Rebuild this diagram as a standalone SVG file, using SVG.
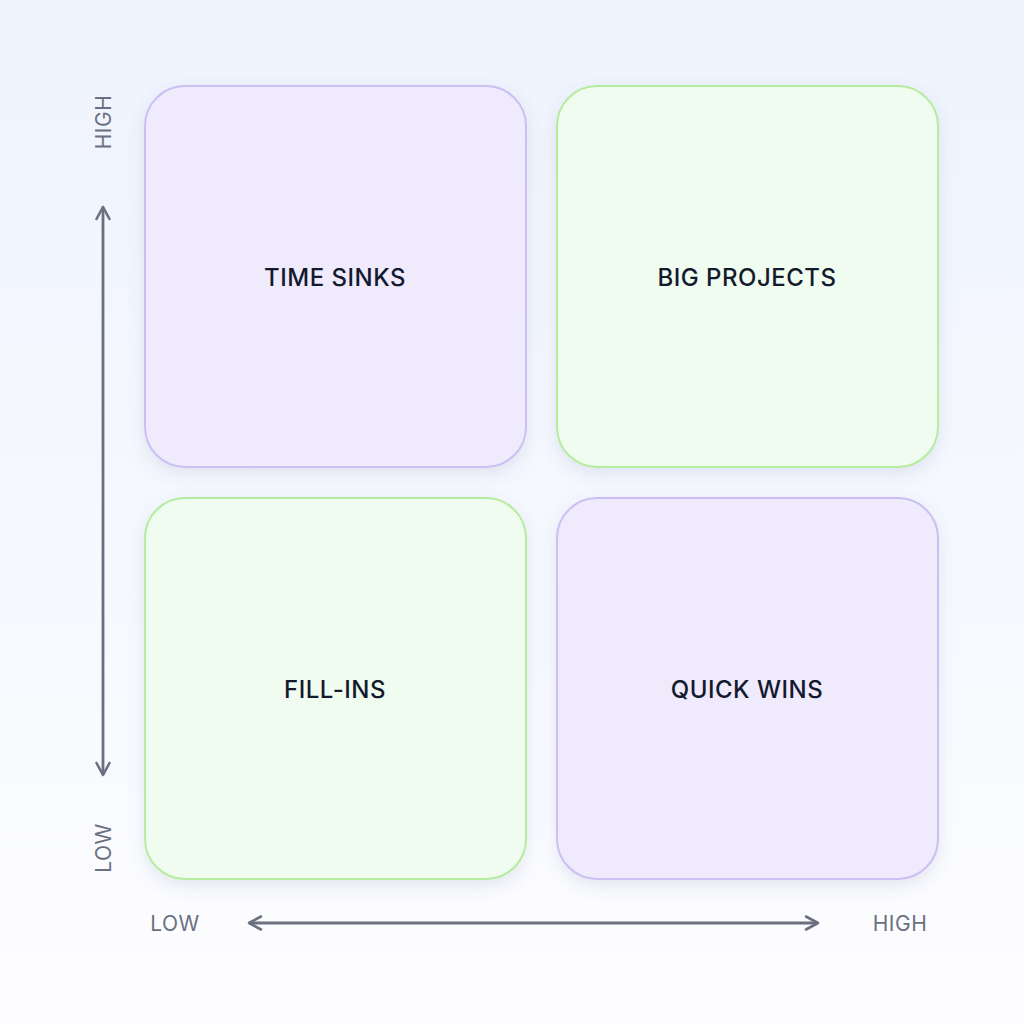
<svg xmlns="http://www.w3.org/2000/svg" width="1024" height="1024" viewBox="0 0 1024 1024">
<defs>
<linearGradient id="bg" x1="0" y1="0" x2="0" y2="1"><stop offset="0" stop-color="#eef3fd"/><stop offset="1" stop-color="#fdfdff"/></linearGradient>
<filter id="sh" x="-20%" y="-20%" width="140%" height="140%"><feDropShadow dx="0" dy="6" stdDeviation="8" flood-color="#6070a0" flood-opacity="0.15"/></filter>
<marker id="ah" viewBox="0 0 16 16" refX="14" refY="8" markerWidth="16" markerHeight="16" markerUnits="userSpaceOnUse" orient="auto-start-reverse"><path d="M2,1.5 L14,8 L2,14.5" fill="none" stroke="#6b7080" stroke-width="2.6" stroke-linecap="round" stroke-linejoin="round"/></marker>
</defs>
<style>
.p{fill:#f0eafd;stroke:#cbbff3;stroke-width:2}
.g{fill:#f0fcf0;stroke:#b5ec9f;stroke-width:2}
.t{font-family:Inter,"Liberation Sans",sans-serif;font-size:24px;font-weight:500;fill:#141a2e;text-anchor:middle;dominant-baseline:central;letter-spacing:0.5px}
.a{font-family:Inter,"Liberation Sans",sans-serif;font-size:21px;fill:#6b7080;text-anchor:middle;dominant-baseline:central;letter-spacing:0.5px}
.ax{stroke:#6b7080;stroke-width:2.8;fill:none}
</style>
<rect width="1024" height="1024" fill="url(#bg)"/>
<g id="time-sinks"><rect class="p" x="145" y="86" width="381" height="381" rx="40" filter="url(#sh)"/><text class="t" x="335" y="277">TIME SINKS</text></g>
<g id="big-projects"><rect class="g" x="557" y="86" width="381" height="381" rx="40" filter="url(#sh)"/><text class="t" x="747" y="277">BIG PROJECTS</text></g>
<g id="fill-ins"><rect class="g" x="145" y="498" width="381" height="381" rx="40" filter="url(#sh)"/><text class="t" x="335" y="689">FILL-INS</text></g>
<g id="quick-wins"><rect class="p" x="557" y="498" width="381" height="381" rx="40" filter="url(#sh)"/><text class="t" x="747" y="689">QUICK WINS</text></g>
<g id="connectors">
<line class="ax" x1="103" y1="207" x2="103" y2="775" marker-start="url(#ah)" marker-end="url(#ah)"/>
<line class="ax" x1="249" y1="923" x2="818" y2="923" marker-start="url(#ah)" marker-end="url(#ah)"/>
</g>
<g id="axis-labels">
<text class="a" transform="translate(103,122) rotate(-90)">HIGH</text>
<text class="a" transform="translate(103,848) rotate(-90)">LOW</text>
<text class="a" x="175" y="923">LOW</text>
<text class="a" x="900" y="923">HIGH</text>
</g>
</svg>
